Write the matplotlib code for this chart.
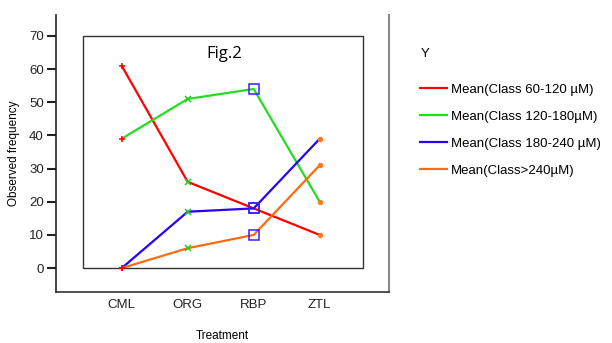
import matplotlib.pyplot as plt
from matplotlib.patches import Rectangle

treatments = ['CML', 'ORG', 'RBP', 'ZTL']
class_60_120 = [61, 26, 18, 10]
class_120_180 = [39, 51, 54, 20]
class_180_240 = [0, 17, 18, 39]
class_240 = [0, 6, 10, 31]
series_labels = ['Mean(Class 60-120 µM)', 'Mean(Class 120-180µM)',
                 'Mean(Class 180-240 µM)', 'Mean(Class>240µM)']
series_colors = ['#ff0000', '#22dd22', '#2a00ff', '#ff6a10']

plt.rcParams['font.family'] = ['Liberation Sans', 'DejaVu Sans']

fig = plt.figure(figsize=(6.12, 3.43), dpi=100)
W, H = 612, 343
ax = fig.add_axes([55.7 / W, 1 - 292 / H, (389 - 55.7) / W, (292 - 15) / H])

x = list(range(1, len(treatments) + 1))
handles = []
for ys, lab, col in zip([class_60_120, class_120_180, class_180_240, class_240],
                        series_labels, series_colors):
    h, = ax.plot(x, ys, color=col, lw=1.6, label=lab, zorder=3)
    handles.append(h)

# markers are per category (SPSS style)
all_series = [class_60_120, class_120_180, class_180_240, class_240]
mk = [('+', '#ff0000', 5, 'full'), ('x', '#22cc22', 4, 'full'),
      ('s', '#3322ff', 7.5, 'none'), ('o', '#ff7a20', 2.8, 'full')]
for i, (m, c, s, fill) in enumerate(mk):
    vals = [ser[i] for ser in all_series]
    ax.plot([x[i]] * len(vals), vals, ls='none', marker=m, color=c, ms=s,
            mew=1.1, fillstyle=fill, zorder=4)

ax.set_xlim(0, 5.05)
ax.set_ylim(-7.2, 76.3)
ax.add_patch(Rectangle((0.41, 0), 4.65 - 0.41, 70, fill=False,
                       edgecolor='#333333', lw=1.0, zorder=2))

ax.spines['top'].set_visible(False)
ax.spines['right'].set_color('#888888')
ax.spines['right'].set_linewidth(1.5)
ax.spines['left'].set_linewidth(1.2)
ax.spines['bottom'].set_linewidth(1.2)
ax.spines['left'].set_color('#222222')
ax.spines['bottom'].set_color('#333333')

ax.set_yticks(range(0, 71, 10))
ax.set_xticks(x)
ax.set_xticklabels(treatments)
ax.tick_params(axis='y', length=6.5, width=1.5, labelsize=9.5, pad=2, colors='#222222')
ax.tick_params(axis='x', length=0, labelsize=9.5, pad=5, colors='#222222')
ax.set_ylabel('Observed frequency', fontsize=8.5, labelpad=2)
ax.yaxis.set_label_coords(-35.7 / (389 - 55.7), 0.5)
ax.set_xlabel('Treatment', fontsize=8.5, labelpad=14)

ax.text(2.55, 64.5, 'Fig.2', fontsize=12, ha='center', va='center',
        family=['Open Sans', 'DejaVu Sans'])

fig.text(421 / W, 1 - 54 / H, 'Y', fontsize=9.5, va='center', ha='left')
fig.legend(handles=handles, loc='upper left', bbox_to_anchor=(415 / W, 1 - 78 / H),
           frameon=False, fontsize=9.5, handlelength=2.0, handletextpad=0.3,
           labelspacing=1.12, borderaxespad=0)

fig.savefig('out.png', dpi=100)
